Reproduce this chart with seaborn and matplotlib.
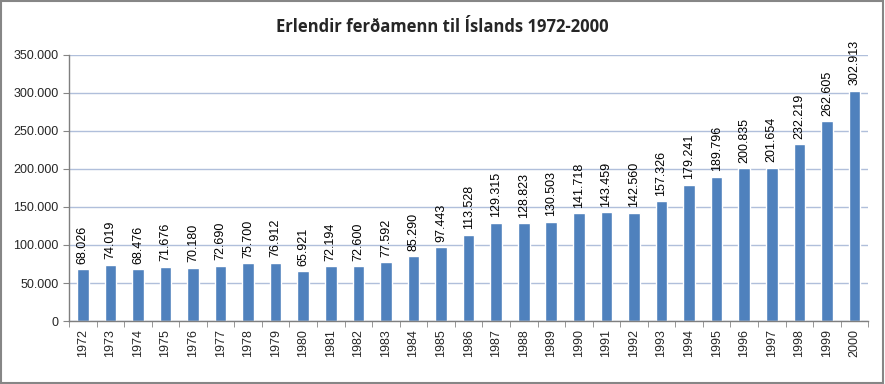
import matplotlib
matplotlib.use("Agg")
import matplotlib.pyplot as plt
import matplotlib.ticker as mticker
import seaborn as sns
import pandas as pd

# data
years = list(range(1972, 2001))
visitors = [68026, 74019, 68476, 71676, 70180, 72690, 75700, 76912, 65921, 72194,
            72600, 77592, 85290, 97443, 113528, 129315, 128823, 130503, 141718, 143459,
            142560, 157326, 179241, 189796, 200835, 201654, 232219, 262605, 302913]

df = pd.DataFrame({"year": [str(y) for y in years], "visitors": visitors})


def dotted(v):
    return f"{int(v):,}".replace(",", ".")


sns.set_style("white")
plt.rcParams["font.family"] = ["Liberation Sans", "DejaVu Sans"]

fig = plt.figure(figsize=(8.85, 3.84), dpi=100)
ax = fig.add_axes([0.078, 0.164, 0.903, 0.693])

sns.barplot(data=df, x="year", y="visitors", color="#4f81bd", width=0.42,
            saturation=1, ax=ax)

ax.set_ylim(0, 350000)
ax.set_xlim(-0.5, len(years) - 0.5)
ax.yaxis.set_major_locator(mticker.MultipleLocator(50000))
ax.yaxis.set_major_formatter(mticker.FuncFormatter(lambda v, p: dotted(v)))
ax.yaxis.grid(True, color="#b0bfdb", linewidth=1)
ax.set_axisbelow(True)

for i, v in enumerate(visitors):
    ax.text(i, v + 7000, dotted(v), rotation=90, ha="center", va="bottom",
            fontsize=9, color="black")

ax.set_xlabel("")
ax.set_ylabel("")
ax.tick_params(axis="x", rotation=90, labelsize=9, length=0, pad=6)
ax.tick_params(axis="y", labelsize=9, length=4, color="#868686", direction="out")
ax.set_xticks(range(len(years)))
# small separator ticks between categories
ax.set_xticks([i + 0.5 for i in range(-1, len(years))], minor=True)
ax.tick_params(axis="x", which="minor", length=4, color="#868686", direction="out")
ax.yaxis.set_ticks_position("left")
ax.xaxis.set_ticks_position("bottom")

for s in ["top", "right"]:
    ax.spines[s].set_visible(False)
for s in ["left", "bottom"]:
    ax.spines[s].set_color("#7f7f7f")
    ax.spines[s].set_linewidth(1)

fig.text(0.5, 0.93, "Erlendir ferðamenn til Íslands 1972-2000", ha="center",
         va="center", fontsize=12, fontweight="bold",
         family=["Open Sans", "DejaVu Sans"])

# grey frame around the chart area
fig.patches.append(plt.Rectangle((0.001, 0.003), 0.997, 0.994, transform=fig.transFigure,
                                 fill=False, edgecolor="#868686", linewidth=1.5))

fig.savefig("out.png", dpi=100)
